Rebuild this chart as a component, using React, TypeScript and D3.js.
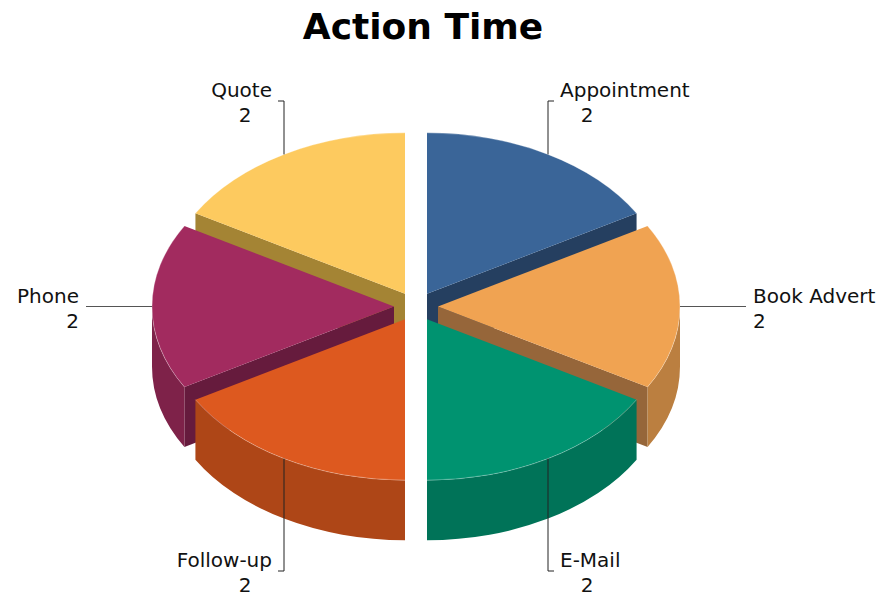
import { useRef, useEffect } from 'react';
import * as d3 from 'd3';

const categories = ['Appointment', 'Book Advert', 'E-Mail', 'Follow-up', 'Phone', 'Quote'];
const values = [2, 2, 2, 2, 2, 2];
const topColors = ['#3a6598', '#f0a352', '#009370', '#dd591f', '#a22b5f', '#fdca5f'];
const wallColors = ['#2a4a70', '#bb7f40', '#007358', '#ae4617', '#7e2249', '#c9a14a'];
const cutColors = ['#253f60', '#96663a', '#00614a', '#8f3a13', '#661b3d', '#a48434'];

export default function App() {
  const svgRef = useRef<SVGSVGElement>(null);
  const width = 882;
  const height = 600;

  useEffect(() => {
    if (!svgRef.current) return;
    const svg = d3.select(svgRef.current);
    svg.selectAll('*').remove();

    const font = "'Century Gothic', 'DejaVu Sans', sans-serif";

    // pie geometry (projected ellipse)
    const cx = 416;
    const cy = 306.5;
    const rx = 242;
    const ry = 161;
    const depth = 60;
    const explode = 22;
    const tilt = ry / rx;

    // title
    svg.append('text')
      .attr('x', width / 2 - 18)
      .attr('y', 39)
      .attr('text-anchor', 'middle')
      .attr('font-family', font)
      .attr('font-weight', 'bold')
      .attr('font-size', '36px')
      .attr('fill', '#000')
      .text('Action Time');

    const pie = d3.pie<number>().sort(null).value(d => d);
    const arcs = pie(values).map((a, i) => {
      const mid = (a.startAngle + a.endAngle) / 2;
      const ox = cx + explode * Math.sin(mid);
      const oy = cy - explode * tilt * Math.cos(mid);
      return { ...a, i, mid, ox, oy };
    });

    type Slice = typeof arcs[number];
    const pt = (s: Slice, ang: number, dz = 0): [number, number] =>
      [s.ox + rx * Math.sin(ang), s.oy - ry * Math.cos(ang) + dz];

    // back to front
    const order = [...arcs].sort((a, b) => -Math.cos(a.mid) - -Math.cos(b.mid));

    const g = svg.append('g');

    order.forEach(s => {
      const a0 = s.startAngle;
      const a1 = s.endAngle;

      // radial cut faces that point towards the viewer
      const cuts: [number, number][] = [[a0, a0 - Math.PI / 2], [a1, a1 + Math.PI / 2]];
      cuts.forEach(([ang, normal]) => {
        if (Math.cos(normal) > -0.01) return;
        const p = pt(s, ang);
        const pb = pt(s, ang, depth);
        const path = d3.path();
        path.moveTo(s.ox, s.oy);
        path.lineTo(p[0], p[1]);
        path.lineTo(pb[0], pb[1]);
        path.lineTo(s.ox, s.oy + depth);
        path.closePath();
        g.append('path').attr('d', path.toString()).attr('fill', cutColors[s.i]);
      });

      // outer curved wall, front half only
      const w0 = Math.max(a0, Math.PI / 2);
      const w1 = Math.min(a1, (3 * Math.PI) / 2);
      if (w1 > w0) {
        const t0 = pt(s, w0);
        const t1 = pt(s, w1);
        const b0 = pt(s, w0, depth);
        const b1 = pt(s, w1, depth);
        const d = `M${t0[0]},${t0[1]} A${rx},${ry} 0 0 1 ${t1[0]},${t1[1]} L${b1[0]},${b1[1]} A${rx},${ry} 0 0 0 ${b0[0]},${b0[1]} Z`;
        g.append('path').attr('d', d).attr('fill', wallColors[s.i]);
      }

      // top face
      const p0 = pt(s, a0);
      const p1 = pt(s, a1);
      const large = a1 - a0 > Math.PI ? 1 : 0;
      g.append('path')
        .attr('d', `M${s.ox},${s.oy} L${p0[0]},${p0[1]} A${rx},${ry} 0 ${large} 1 ${p1[0]},${p1[1]} Z`)
        .attr('fill', topColors[s.i]);
      g.append('path')
        .attr('d', `M${p0[0]},${p0[1]} A${rx},${ry} 0 ${large} 1 ${p1[0]},${p1[1]}`)
        .attr('fill', 'none')
        .attr('stroke', '#ffffff')
        .attr('stroke-opacity', 0.35)
        .attr('stroke-width', 0.8);
    });

    // data labels with leader lines
    const labelTopY = 101;
    const labelBottomY = 571;
    const labels = svg.append('g')
      .attr('font-family', font)
      .attr('font-size', '20px')
      .attr('fill', '#111');

    arcs.forEach(s => {
      const [ax, ay] = pt(s, s.mid);
      const right = Math.sin(s.mid) > 0;
      const dir = right ? 1 : -1;
      const anchor = right ? 'start' : 'end';
      const c = Math.cos(s.mid);

      if (Math.abs(c) > 0.3) {
        const ly = c > 0 ? labelTopY : labelBottomY;
        labels.append('path')
          .attr('d', `M${ax},${ay} L${ax},${ly} L${ax + dir * 6},${ly}`)
          .attr('fill', 'none')
          .attr('stroke', '#222')
          .attr('stroke-width', 1);
        labels.append('text')
          .attr('x', ax + dir * 12)
          .attr('y', ly - 4)
          .attr('text-anchor', anchor)
          .text(categories[s.i]);
        labels.append('text')
          .attr('x', ax + dir * 39)
          .attr('y', ly + 21)
          .attr('text-anchor', 'middle')
          .text(values[s.i]);
      } else {
        const ex = ax + dir * 66;
        labels.append('line')
          .attr('x1', ax).attr('y1', ay)
          .attr('x2', ex).attr('y2', ay)
          .attr('stroke', '#555')
          .attr('stroke-width', 1);
        labels.append('text')
          .attr('x', ex + dir * 7)
          .attr('y', ay - 4)
          .attr('text-anchor', anchor)
          .text(categories[s.i]);
        labels.append('text')
          .attr('x', ex + dir * 7)
          .attr('y', ay + 21)
          .attr('text-anchor', anchor)
          .text(values[s.i]);
      }
    });
  }, []);

  return (
    <div style={{ position: 'absolute', left: 0, top: 0 }}>
      <svg ref={svgRef} width={width} height={height} style={{ display: 'block', background: '#fff' }}></svg>
    </div>
  );
}
